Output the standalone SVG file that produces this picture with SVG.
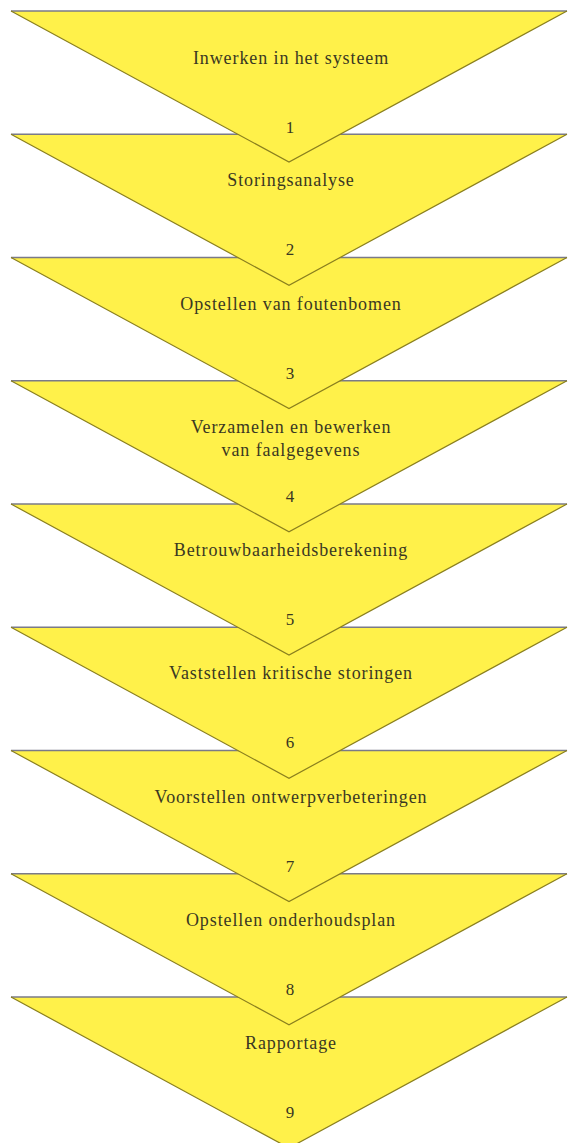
<svg xmlns="http://www.w3.org/2000/svg" width="568" height="1143" viewBox="0 0 568 1143">
<defs>
<style>
.fill{fill:#fff14a;stroke:none}
.top{stroke:#7a7a88;stroke-width:1.3;fill:none}
.side{stroke:#8a7f1e;stroke-width:1.2;fill:none}
.lbl{font-family:"Liberation Serif","Times New Roman",serif;font-size:18px;letter-spacing:0.9px;fill:#3a3822;text-anchor:middle}
.num{font-family:"Liberation Serif","Times New Roman",serif;font-size:17px;fill:#3a3822;text-anchor:middle}
</style>
<g id="tri">
<polygon class="fill" points="11,0 567,0 289,151"/>
<line class="top" x1="11" y1="0" x2="567" y2="0"/>
<polyline class="side" points="11,0 289,151 567,0"/>
</g>
</defs>
<rect width="568" height="1143" fill="#ffffff"/>
<g id="connectors"></g>
<g id="step9">
<use href="#tri" x="0" y="997"/>
<text class="lbl" x="291" y="1049">Rapportage</text>
<text class="num" x="290" y="1118">9</text>
</g>
<g id="step8">
<use href="#tri" x="0" y="873.75"/>
<text class="lbl" x="291" y="926">Opstellen onderhoudsplan</text>
<text class="num" x="290" y="995">8</text>
</g>
<g id="step7">
<use href="#tri" x="0" y="750.5"/>
<text class="lbl" x="291" y="802.5">Voorstellen ontwerpverbeteringen</text>
<text class="num" x="290" y="871.5">7</text>
</g>
<g id="step6">
<use href="#tri" x="0" y="627.25"/>
<text class="lbl" x="291" y="679">Vaststellen kritische storingen</text>
<text class="num" x="290" y="748">6</text>
</g>
<g id="step5">
<use href="#tri" x="0" y="504"/>
<text class="lbl" x="291" y="556">Betrouwbaarheidsberekening</text>
<text class="num" x="290" y="625">5</text>
</g>
<g id="step4">
<use href="#tri" x="0" y="380.75"/>
<text class="lbl" x="291" y="433">Verzamelen en bewerken</text>
<text class="lbl" x="291" y="456">van faalgegevens</text>
<text class="num" x="290" y="502">4</text>
</g>
<g id="step3">
<use href="#tri" x="0" y="257.5"/>
<text class="lbl" x="291" y="309.5">Opstellen van foutenbomen</text>
<text class="num" x="290" y="378.5">3</text>
</g>
<g id="step2">
<use href="#tri" x="0" y="134.25"/>
<text class="lbl" x="291" y="186">Storingsanalyse</text>
<text class="num" x="290" y="255">2</text>
</g>
<g id="step1">
<use href="#tri" x="0" y="11"/>
<text class="lbl" x="291" y="64">Inwerken in het systeem</text>
<text class="num" x="290" y="133">1</text>
</g>
</svg>
